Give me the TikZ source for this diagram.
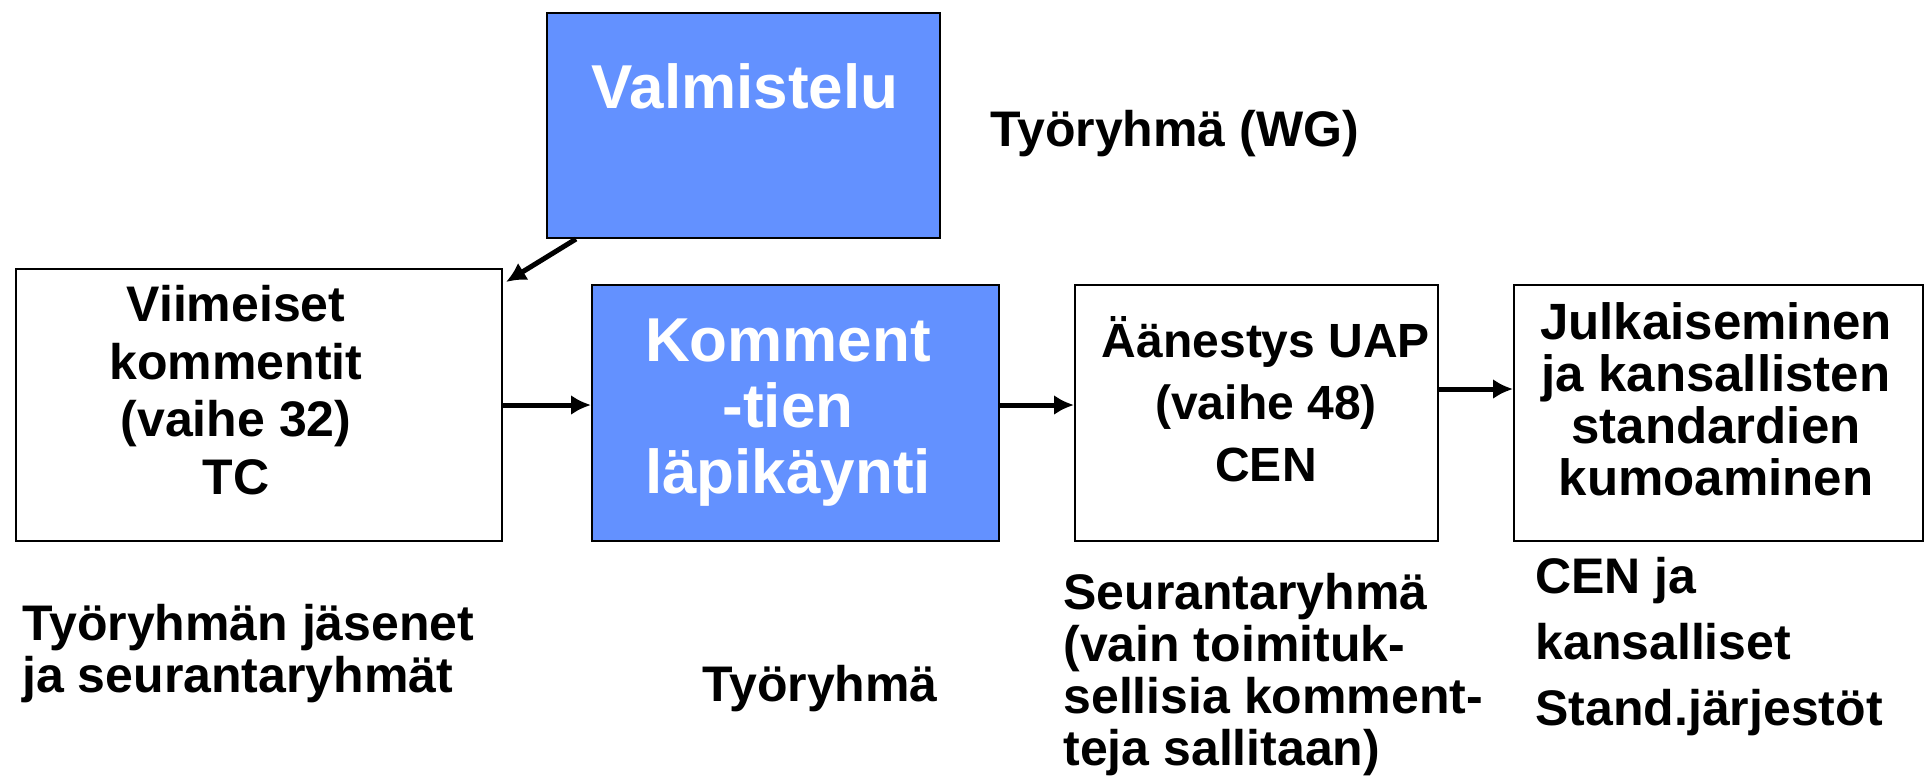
\documentclass[tikz,border=0pt]{standalone}
\usepackage{fontspec}
\setmainfont{Liberation Sans}
\usetikzlibrary{arrows.meta}

\definecolor{stageblue}{RGB}{99,145,255}

\tikzset{
  stage/.style={draw=black, line width=1pt, rectangle, inner sep=0pt, anchor=north west},
  bluestage/.style={stage, fill=stageblue},
  flow/.style={line width=2.5pt, -{Latex[length=10pt,width=10pt]}},
  boxtxt/.style={align=center, inner sep=0pt, font=\bfseries\fontsize{25}{28.8}\selectfont},
  bigtxt/.style={align=center, inner sep=0pt, text=white, font=\bfseries\fontsize{31}{32}\selectfont},
  sidetxt/.style={align=left, inner sep=0pt, font=\bfseries\fontsize{25}{26}\selectfont}
}

\begin{document}
\begin{tikzpicture}[x=0.5pt, y=-0.5pt]
\useasboundingbox (0,0) rectangle (1926,778);

% Stages
\node[bluestage, minimum width=196.5pt, minimum height=112.5pt] (valm) at (546,12) {};
\node[stage, minimum width=243pt, minimum height=136pt] (viim) at (15,268) {};
\node[bluestage, minimum width=203.5pt, minimum height=128pt] (komm) at (591,284) {};
\node[stage, minimum width=181.5pt, minimum height=128pt] (aan) at (1074,284) {};
\node[stage, minimum width=204.5pt, minimum height=128pt] (julk) at (1513,284) {};

% Texts in the stages
\node[bigtxt] (valmtxt) at (745,86) {Valmistelu};
\node[boxtxt] (viimtxt) at (236,390) {Viimeiset\\kommentit\\(vaihe 32)\\TC};
\node[bigtxt, font=\bfseries\fontsize{31}{33}\selectfont] (kommtxt) at (788,413) {Komment\\-tien\\läpikäynti};
\node[boxtxt, font=\bfseries\fontsize{24}{31}\selectfont] (aantxt) at (1266,399) {Äänestys UAP\\(vaihe 48)\\CEN};
\node[boxtxt, font=\bfseries\fontsize{25.5}{26}\selectfont] (julktxt) at (1716,399) {Julkaiseminen\\ja kansallisten\\standardien\\kumoaminen};

% Who does it
\node[sidetxt, anchor=base west] (wg) at (990,146) {Työryhmä (WG)};
\node[sidetxt, anchor=north west] (jasenet) at (22,604) {Työryhmän jäsenet\\ja seurantaryhmät};
\node[sidetxt, anchor=base west] (tr) at (702,701) {Työryhmä};
\node[sidetxt, anchor=north west] (seur) at (1063,573)
  {Seurantaryhmä\\(vain toimituk-\\sellisia komment-\\teja sallitaan)};
\node[sidetxt, anchor=north west, font=\bfseries\fontsize{25}{33}\selectfont] (cen) at (1535,557)
  {CEN ja\\kansalliset\\Stand.järjestöt};

% Arrows
\draw[flow] ([shift={(30,0)}]valm.south west) -- ([shift={(3,14)}]viim.north east);
\draw[flow] (viim.east) -- (viim.east -| komm.west);
\draw[flow] ([shift={(0,-8)}]komm.east) -- ([shift={(0,-8)}]aan.west);
\draw[flow] ([shift={(0,-24)}]aan.east) -- ([shift={(0,-24)}]julk.west);

\end{tikzpicture}
\end{document}
